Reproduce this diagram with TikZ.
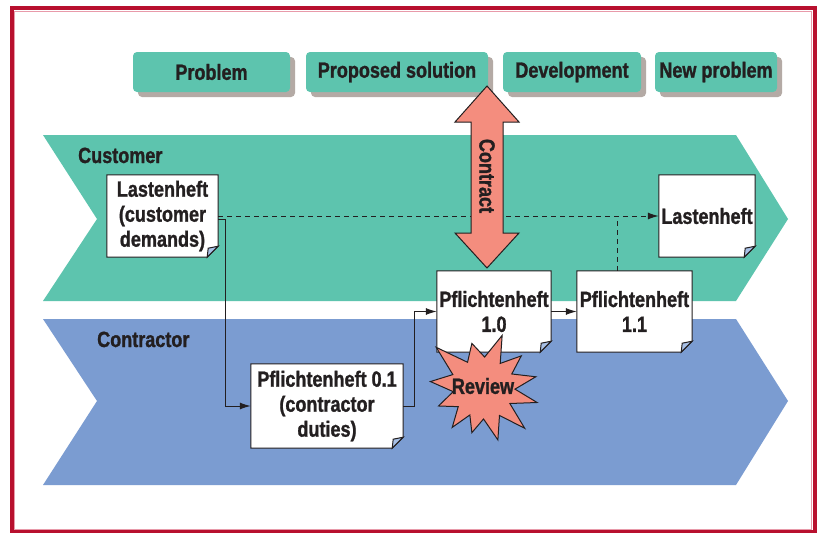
\documentclass[tikz,border=0pt]{standalone}
\usepackage{fontspec}
\setmainfont{Liberation Sans}[FakeStretch=0.82, BoldFeatures={FakeBold=1.2}]
\usetikzlibrary{arrows.meta,shadows}
\definecolor{bandteal}{HTML}{5DC4AE}
\definecolor{bandblue}{HTML}{7B9CD1}
\definecolor{salmon}{HTML}{F48D7E}
\definecolor{framered}{HTML}{B8102E}
\definecolor{framepink}{HTML}{E89AAA}
\definecolor{tabshade}{HTML}{B4AAA5}
\definecolor{foldblue}{HTML}{A7C0E6}
\definecolor{ink}{HTML}{231F20}
\pgfdeclarelayer{bands}
\pgfdeclarelayer{frames}
\pgfsetlayers{bands,frames,main}
% paper sheet with dog-ear, drawn under the node text
\newcommand{\docframe}[1]{%
  \begin{pgfonlayer}{frames}
    \filldraw[docline,fill=white] (#1.north west) -- (#1.north east) -- ([yshift=11pt]#1.south east)
      -- ([xshift=-11pt]#1.south east) -- (#1.south west) -- cycle;
    \filldraw[docline,fill=foldblue] ([yshift=11pt]#1.south east) -- ([xshift=-11pt]#1.south east)
      -- ([xshift=-10pt,yshift=9pt]#1.south east) -- cycle;
  \end{pgfonlayer}}
\begin{document}
\begin{tikzpicture}[x=1pt,y=-1pt,
    txt/.style={font=\bfseries\fontsize{22}{25}\selectfont, text=ink},
    doc/.style={txt, align=center, inner sep=0pt},
    docline/.style={draw=ink, line width=1pt},
    tabbox/.style={txt, fill=bandteal, rounded corners=4pt, minimum height=40pt, inner sep=0pt,
      drop shadow={shadow xshift=5pt, shadow yshift=-5pt, fill=tabshade, opacity=1}},
    bandtext/.style={txt, anchor=base west, inner sep=0pt},
    flow/.style={draw=ink, line width=1pt, -{Latex[length=11pt,width=7pt]}},
    dashline/.style={draw=ink, line width=1pt, dash pattern=on 5pt off 4pt},
    burst/.style={fill=salmon, draw=ink, line width=1pt, line join=miter}]
    \useasboundingbox (0,0) rectangle (817,533);
    \begin{pgfonlayer}{bands}
    \fill[white] (0,0) rectangle (817,533);
    \draw[framered, line width=4pt] (11.5,8) rectangle (815,532);
    \draw[framepink, line width=0.6pt] (14.5,11.5) rectangle (811.5,529);
    % the two swim lanes
    \fill[bandteal] (43,135) -- (736,135) -- (788,219) -- (736,301) -- (43,301) -- (97,219) -- cycle;
    \fill[bandblue] (43,319) -- (736,319) -- (788,401) -- (736,485) -- (43,485) -- (97,401) -- cycle;
    \end{pgfonlayer}
    \node[bandtext] (customer) at (78,163) {Customer};
    \node[bandtext] (contractor) at (97,347) {Contractor};
    % phases
    \node[tabbox, minimum width=157pt] (problem) at (211.5,72) {Problem};
    \node[tabbox, minimum width=182pt] (proposed) at (397,72) {Proposed solution};
    \node[tabbox, minimum width=138pt] (develop) at (572,72) {Development};
    \node[tabbox, minimum width=122pt] (newprob) at (716,72) {New problem};
    % documents
    \node[doc, minimum width=111pt, minimum height=82pt] (lh1) at (162.5,216) {Lastenheft\\(customer\\demands)};
    \node[doc, minimum width=152pt, minimum height=84pt] (pf01) at (327,406) {Pflichtenheft 0.1\\(contractor\\duties)};
    \node[doc, minimum width=114pt, minimum height=81pt] (pf10) at (494,311.5) {Pflichtenheft\\1.0};
    \node[doc, minimum width=115pt, minimum height=81pt] (pf11) at (634.5,311.5) {Pflichtenheft\\1.1};
    \node[doc, minimum width=96pt, minimum height=82pt] (lh2) at (707,216) {Lastenheft};
    \docframe{lh1}
    \docframe{pf01}
    \docframe{pf10}
    \docframe{pf11}
    \docframe{lh2}
    % connectors
    \draw[flow] ([yshift=-3pt]lh1.east) -- ++(7,0) |- (pf01.west);
    \draw[flow] (pf01.east) -- ++(11,0) |- (pf10.west);
    \draw[flow] (pf10.east) -- (pf11.west);
    \draw[dashline, -{Latex[length=11pt,width=7pt]}] (lh1.east) -- (lh2.west);
    \draw[dashline] ([xshift=-17pt]pf11.north) -- ([xshift=-17pt]pf11.north |- lh2.west);
    % contract arrow
    \filldraw[burst] (487,86) -- (519,122) -- (503,122) -- (503,233) -- (519,233) -- (487,268)
      -- (455,233) -- (471,233) -- (471,122) -- (455,122) -- cycle;
    \node[txt, rotate=-90] (contract) at (487,176) {Contract};
    % review burst
    \filldraw[burst, shift={(483,388)}] (-12:54) -- (-26:32) -- (-40:50) -- (-55:30) -- (-70:56)
      -- (-87:31) -- (-104:46) -- (-121:30) -- (-139:62) -- (-156:33) -- (-173:53) -- (-187:30)
      -- (-202:48) -- (-217:31) -- (-232:50) -- (-244:30) -- (-256:46) -- (-271:31) -- (-286:54)
      -- (-301:32) -- (-316:58) -- (-330:31) -- (-345:56) -- (-358:32) -- cycle;
    \node[txt] (review) at (483,386) {Review};
\end{tikzpicture}
\end{document}
